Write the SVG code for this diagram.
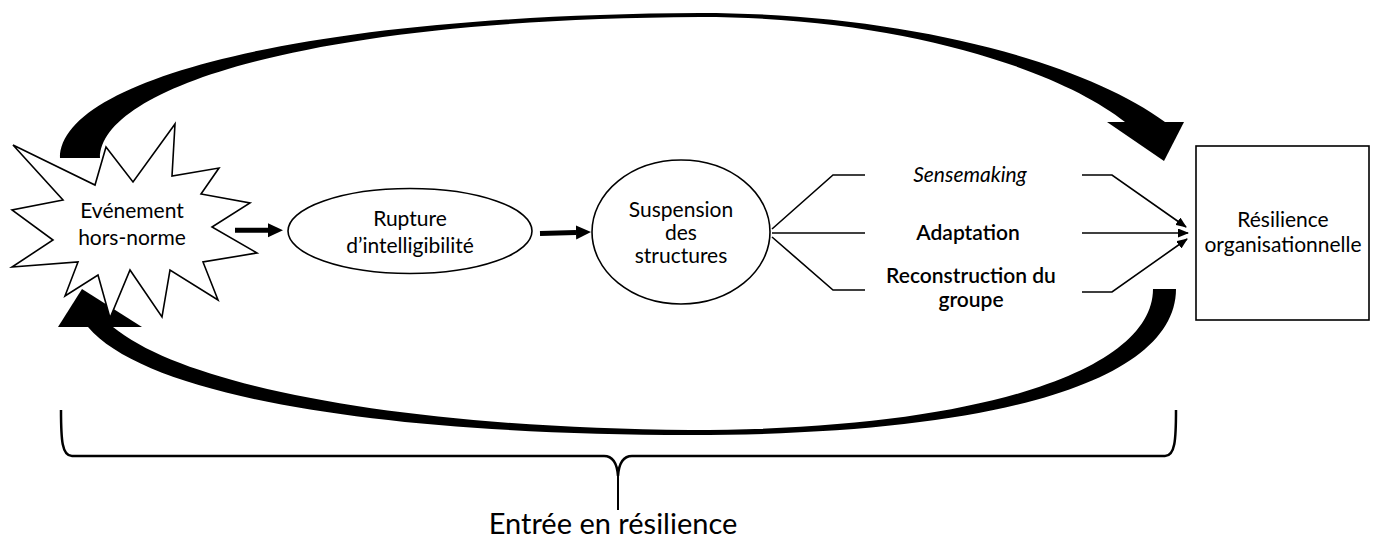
<svg xmlns="http://www.w3.org/2000/svg" width="1374" height="538" viewBox="0 0 1374 538">
<style>
text{font-family:Lato,"Liberation Sans",sans-serif;fill:#000;text-anchor:middle}
.t{font-size:21px}
.b{font-size:21px;font-weight:600}
.big{font-size:29px}
.shape{fill:#fff;stroke:#000;stroke-width:1.6}
.fan{fill:none;stroke:#000;stroke-width:1.6}
.thick{fill:none;stroke:#000;stroke-width:5}
.band{fill:#000;stroke:none}
</style>
<defs>
<marker id="bighead" markerUnits="userSpaceOnUse" markerWidth="16" markerHeight="15" refX="0" refY="7" orient="auto" viewBox="0 0 16 14">
<path d="M0,0 L15,7 L0,14 z" fill="#000"/>
</marker>
<marker id="small" markerUnits="userSpaceOnUse" markerWidth="11" markerHeight="9" refX="10" refY="4.5" orient="auto" viewBox="0 0 11 9">
<path d="M0,0 L11,4.5 L0,9 z" fill="#000"/>
</marker>
</defs>
<rect width="1374" height="538" fill="#fff"/>

<g id="connectors">
<g id="loop-top">
<path class="band" d="M60,158 C60,80 300,15 700,13 C900,13 1080,60 1165,122 L1125,122 C1060,70 900,17 700,17 C300,19 100,90 100,158 Z"/>
<polygon points="1107,122 1184,122 1164,161" fill="#000"/>
</g>
<g id="loop-bottom">
<path class="band" d="M1176,289 C1176,380 1000,435 690,435 C400,435 150,400 88,327 L113,327 C190,390 420,428 690,430 C980,430 1153,370 1153,289 Z"/>
<polygon points="58,327 142,327 82,289" fill="#000"/>
</g>
<line class="thick" x1="235" y1="230.3" x2="268" y2="230.3" marker-end="url(#bighead)"/>
<line class="thick" x1="540" y1="233.5" x2="576" y2="232.5" marker-end="url(#bighead)"/>
<polyline class="fan" points="772,229 833,175 865,175"/>
<polyline class="fan" points="772,233 865,233"/>
<polyline class="fan" points="772,237 833,290 865,290"/>
<polyline class="fan" points="1082,175 1112,175 1186,227" marker-end="url(#small)"/>
<polyline class="fan" points="1082,233 1188,233" marker-end="url(#small)"/>
<polyline class="fan" points="1082,292 1112,292 1187,239" marker-end="url(#small)"/>
</g>

<g id="event">
<polygon class="shape" points="13,145 95,185 106,147 133,182 175,124 172,176 219,168 201,194 250,203 212,227 257,253 203,262 218,300 170,270 162,317 130,270 110,318 98,275 65,296 78,262 12,267 53,240 12,210 63,200"/>
<text class="t" x="132" y="218">Evénement</text>
<text class="t" x="132" y="245">hors-norme</text>
</g>

<g id="rupture">
<ellipse class="shape" cx="410" cy="231" rx="122" ry="42.5"/>
<text class="t" x="410" y="226">Rupture</text>
<text class="t" x="410" y="253">d’intelligibilité</text>
</g>

<g id="suspension">
<ellipse class="shape" cx="681" cy="232" rx="89" ry="72"/>
<text class="t" x="681" y="217">Suspension</text>
<text class="t" x="681" y="240">des</text>
<text class="t" x="681" y="263">structures</text>
</g>

<g id="sensemaking">
<text class="t" x="970" y="182" font-style="italic">Sensemaking</text>
</g>
<g id="adaptation">
<text class="b" x="968" y="240">Adaptation</text>
</g>
<g id="reconstruction">
<text class="b" x="971" y="283">Reconstruction du</text>
<text class="b" x="971" y="307">groupe</text>
</g>

<g id="resilience">
<rect class="shape" x="1196" y="146" width="173" height="174"/>
<text class="t" x="1283" y="227">Résilience</text>
<text class="t" x="1283" y="252">organisationnelle</text>
</g>

<g id="entree">
<path fill="none" stroke="#000" stroke-width="2.5" d="M61,410 C61,440 62,456 72,456 L604,456 C612,456 617,462 618,476 C619,462 624,456 632,456 L1165,456 C1175,456 1176,440 1176,410"/>
<line x1="618" y1="470" x2="618" y2="510" stroke="#000" stroke-width="2"/>
<text class="big" x="613" y="534">Entrée en résilience</text>
</g>
</svg>
